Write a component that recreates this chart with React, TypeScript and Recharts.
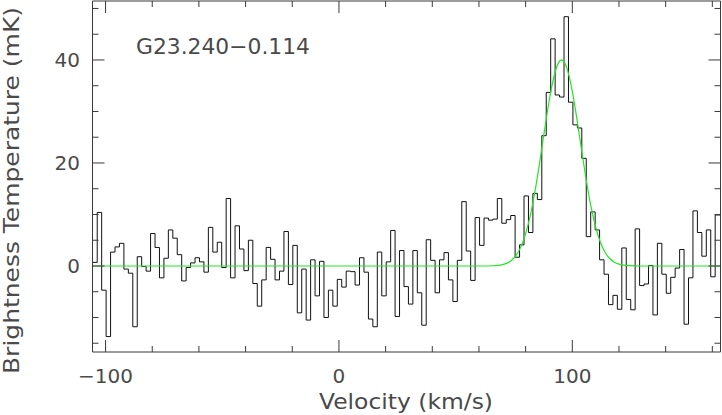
import React from 'react';
import { LineChart, Line, XAxis, YAxis } from 'recharts';

// Spectrum channels (left edge of first channel, channel width, km/s)
const CHANNEL_START = -105.48;
const CHANNEL_WIDTH = 1.905;

// Brightness temperature per channel (mK)
const TB = [
  0.7, 10.4, -4.7, -13.7, 2.7, 3.7, 4.4, -0.6, -1.4, -11.8,
  1.8, -0.1, -1.0, 6.3, 3.6, -2.3, 1.5, 7.0, 5.4, 2.2,
  -2.9, -0.3, 0.6, 1.6, 0.8, -1.2, 7.5, 2.7, 4.6, -0.3,
  13.1, -2.3, 7.8, 3.3, -0.9, 5.0, -3.4, -7.8, -2.7, 3.6,
  1.3, -2.7, -1.0, 6.7, -3.6, 4.0, -9.1, -0.6, -10.5, 1.2,
  -5.8, 0.9, -10.0, -4.7, -7.8, -2.6, -4.1, -1.0, -1.1, -3.7,
  1.6, -1.2, -10.3, -11.8, 2.7, -5.8, 0.8, 6.9, -9.8, 3.0,
  -4.0, -7.4, 3.0, -5.2, -11.5, 5.1, 1.1, -5.2, 1.2, 2.6,
  -2.7, -6.9, 1.1, 12.5, 2.9, -2.8, 9.4, 4.0, 9.3, 8.9,
  9.1, 13.1, 8.3, 9.0, 9.8, 1.7, 4.1, 13.6, 6.5, 14.1,
  12.9, 25.3, 33.7, 44.1, 33.2, 32.8, 48.4, 31.8, 27.4, 26.8,
  20.9, 5.7, 10.5, 7.0, 1.2, -1.6, -7.5, -5.7, -8.4, 3.5,
  -6.5, -8.5, 7.2, -3.8, -3.5, 0.1, -9.5, 4.4, -1.6, -5.3,
  -2.2, -0.4, 3.2, -11.3, -2.3, 10.7, 6.5, 1.9, 7.0, -2.1,
  9.9,
];

// Gaussian fit curve
const FIT_V = [-105.6, 60, 66, 68, 70, 72, 74, 76, 78, 80, 82, 84, 86, 88, 90, 92, 94, 95.4, 96, 98, 100, 102, 104, 106, 108, 110, 112, 114, 116, 118, 120, 122, 124, 130, 163.5];
const FIT_T = [0, 0, 0.05, 0.11, 0.26, 0.55, 1.12, 2.11, 3.76, 6.27, 9.84, 14.49, 20.06, 26.08, 31.84, 36.55, 39.39, 40.0, 39.89, 37.94, 33.9, 28.46, 22.44, 16.63, 11.57, 7.56, 4.65, 2.68, 1.45, 0.74, 0.35, 0.16, 0.07, 0, 0];

const X_DOMAIN: [number, number] = [-105.6, 163.5];
const Y_DOMAIN: [number, number] = [-16.7, 51.45];
const X_MAJOR = [-100, 0, 100];
const X_TICKS = [-100, -80, -60, -40, -20, 0, 20, 40, 60, 80, 100, 120, 140, 160];
const Y_MAJOR = [0, 20, 40];
const Y_TICKS = [-15, -10, -5, 0, 5, 10, 15, 20, 25, 30, 35, 40, 45, 50];

const SOURCE_NAME = 'G23.240\u22120.114';
const X_TITLE = 'Velocity (km/s)';
const Y_TITLE = 'Brightness Temperature (mK)';

const spectrum = TB.map((t, i) => ({ v: CHANNEL_START + i * CHANNEL_WIDTH, t }));
spectrum.push({ v: X_DOMAIN[1], t: TB[TB.length - 1] });
const fit = FIT_V.map((v, i) => ({ v, t: FIT_T[i] }));

const FONT = '"DejaVu Sans", sans-serif';
const INK = '#4a4a4a';
const FRAME = '#3a3a3a';
const MAJOR_LEN = 12;
const MINOR_LEN = 6;

const fmt = (v: number) => String(v).replace('-', '\u2212');

type Side = 'bottom' | 'top' | 'left' | 'right';

function makeTick(side: Side, majors: number[], label: boolean) {
  return (props: any) => {
    const { x, y, payload } = props;
    const val = payload.value as number;
    const major = majors.includes(val);
    const len = major ? MAJOR_LEN : MINOR_LEN;
    let x2 = x, y2 = y;
    if (side === 'bottom') y2 = y - len;
    if (side === 'top') y2 = y + len;
    if (side === 'left') x2 = x + len;
    if (side === 'right') x2 = x - len;
    return (
      <g>
        <line x1={x} y1={y} x2={x2} y2={y2} stroke={FRAME} strokeWidth={1} />
        {label && major && side === 'bottom' && (
          <text x={x} y={y + 31} textAnchor="middle" fontSize={20} fill={INK} fontFamily={FONT}>{fmt(val)}</text>
        )}
        {label && major && side === 'left' && (
          <text x={x - 12.5} y={y + 7} textAnchor="end" fontSize={20} fill={INK} fontFamily={FONT}>{fmt(val)}</text>
        )}
      </g>
    );
  };
}

export default function App() {
  return (
    <div style={{ position: 'absolute', left: 0, top: 0, width: 722, height: 415, background: '#fff' }}>
      <LineChart width={722} height={415} margin={{ top: 0, right: 0, bottom: 0, left: 0 }}>
        <XAxis
          xAxisId={0}
          dataKey="v"
          type="number"
          orientation="bottom"
          domain={X_DOMAIN}
          allowDataOverflow
          ticks={X_TICKS}
          interval={0}
          height={63}
          axisLine={{ stroke: FRAME }}
          tickLine={false}
          tickSize={0}
          tickMargin={0}
          tick={makeTick('bottom', X_MAJOR, true)}
        />
        <XAxis
          xAxisId="top"
          dataKey="v"
          type="number"
          orientation="top"
          domain={X_DOMAIN}
          allowDataOverflow
          ticks={X_TICKS}
          interval={0}
          height={1}
          axisLine={{ stroke: FRAME }}
          tickLine={false}
          tickSize={0}
          tickMargin={0}
          tick={makeTick('top', X_MAJOR, false)}
        />
        <YAxis
          yAxisId={0}
          type="number"
          orientation="left"
          domain={Y_DOMAIN}
          allowDataOverflow
          ticks={Y_TICKS}
          interval={0}
          width={92.5}
          axisLine={{ stroke: FRAME }}
          tickLine={false}
          tickSize={0}
          tickMargin={0}
          tick={makeTick('left', Y_MAJOR, true)}
        />
        <YAxis
          yAxisId="right"
          type="number"
          orientation="right"
          domain={Y_DOMAIN}
          allowDataOverflow
          ticks={Y_TICKS}
          interval={0}
          width={1.5}
          axisLine={{ stroke: FRAME }}
          tickLine={false}
          tickSize={0}
          tickMargin={0}
          tick={makeTick('right', Y_MAJOR, false)}
        />

        <Line
          data={spectrum}
          dataKey="t"
          xAxisId={0}
          yAxisId={0}
          type="stepAfter"
          stroke="#111"
          strokeWidth={1}
          dot={false}
          activeDot={false}
          isAnimationActive={false}
        />
        <Line
          data={fit}
          dataKey="t"
          xAxisId="top"
          yAxisId="right"
          type="monotone"
          stroke="#22e622"
          strokeWidth={1.2}
          dot={false}
          activeDot={false}
          isAnimationActive={false}
        />
      </LineChart>
      <svg width={722} height={415} style={{ position: 'absolute', left: 0, top: 0, pointerEvents: 'none' }}>
        <text x={136} y={54} fontSize={21} fill={INK} fontFamily={FONT}
          textLength={174} lengthAdjust="spacingAndGlyphs">{SOURCE_NAME}</text>
        <text x={406} y={409} fontSize={21} fill={INK} fontFamily={FONT} textAnchor="middle"
          textLength={174} lengthAdjust="spacingAndGlyphs">{X_TITLE}</text>
        <text x={18.5} y={190.5} transform="rotate(-90 18.5 190.5)" fontSize={21} fill={INK} fontFamily={FONT}
          textAnchor="middle" textLength={367} lengthAdjust="spacingAndGlyphs">{Y_TITLE}</text>
      </svg>
    </div>
  );
}
